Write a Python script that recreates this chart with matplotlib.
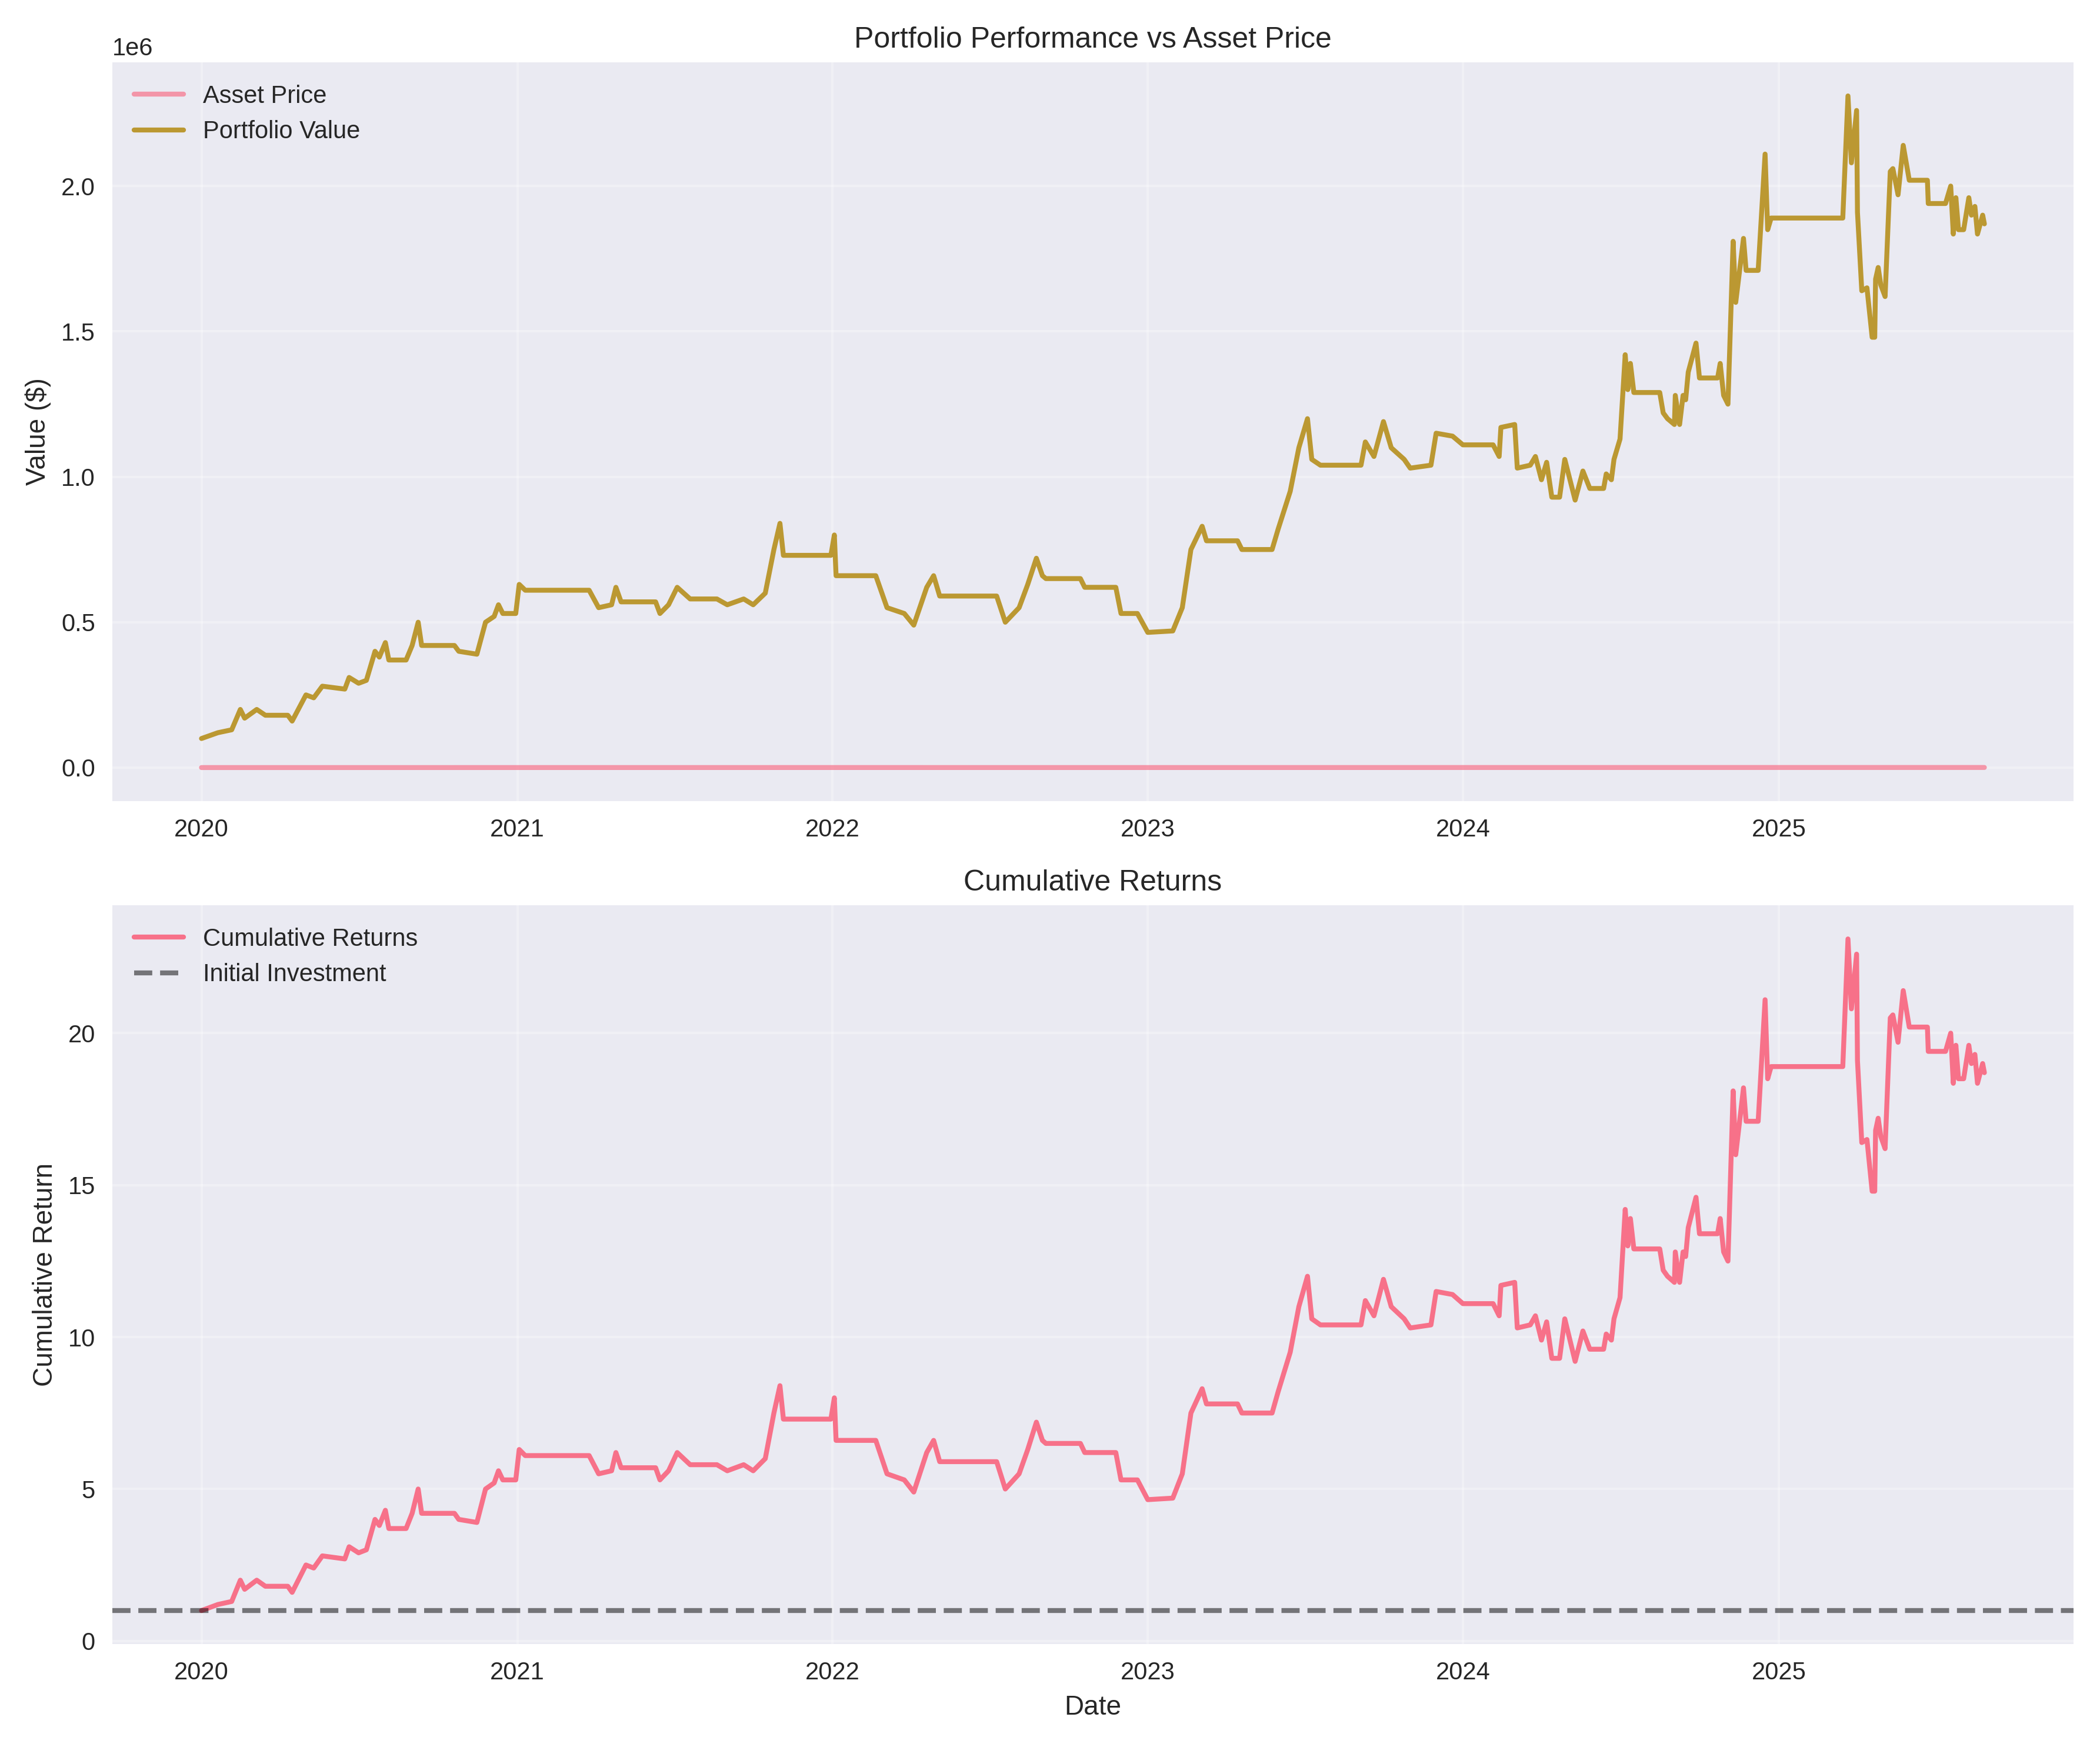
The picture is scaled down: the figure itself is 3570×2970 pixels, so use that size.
import matplotlib.pyplot as plt
import matplotlib.dates as mdates
import numpy as np
import pandas as pd
import seaborn as sns

# cumulative return breakpoints
dates = ["2020-01-01", "2020-01-20", "2020-02-05", "2020-02-15", "2020-02-20", "2020-03-05", "2020-03-15",
         "2020-04-10", "2020-04-15", "2020-05-01", "2020-05-10", "2020-05-20", "2020-06-15", "2020-06-20",
         "2020-07-01", "2020-07-10", "2020-07-20", "2020-07-25", "2020-08-01", "2020-08-05", "2020-08-25",
         "2020-09-01", "2020-09-08", "2020-09-12", "2020-10-20", "2020-10-25", "2020-11-15", "2020-11-25",
         "2020-12-05", "2020-12-10", "2020-12-15", "2020-12-30", "2021-01-03", "2021-01-10", "2021-03-25",
         "2021-04-05", "2021-04-20", "2021-04-25", "2021-05-01", "2021-06-10", "2021-06-15", "2021-06-25",
         "2021-07-05", "2021-07-20", "2021-08-20", "2021-09-01", "2021-09-20", "2021-10-01", "2021-10-15",
         "2021-10-25", "2021-11-01", "2021-11-05", "2021-12-30", "2022-01-03", "2022-01-05", "2022-02-20",
         "2022-03-05", "2022-03-25", "2022-04-05", "2022-04-20", "2022-04-28", "2022-05-05", "2022-07-10",
         "2022-07-20", "2022-08-05", "2022-08-15", "2022-08-25", "2022-09-01", "2022-09-05", "2022-10-15",
         "2022-10-20", "2022-11-25", "2022-12-01", "2022-12-20", "2023-01-01", "2023-01-30", "2023-02-10",
         "2023-02-20", "2023-03-05", "2023-03-10", "2023-04-15", "2023-04-20", "2023-05-25", "2023-06-01",
         "2023-06-15", "2023-06-25", "2023-07-05", "2023-07-10", "2023-07-20", "2023-09-05", "2023-09-10",
         "2023-09-20", "2023-10-01", "2023-10-10", "2023-10-25", "2023-11-01", "2023-11-25", "2023-12-01",
         "2023-12-20", "2024-01-01", "2024-02-05", "2024-02-12", "2024-02-14", "2024-03-01", "2024-03-04",
         "2024-03-19", "2024-03-25", "2024-04-01", "2024-04-07", "2024-04-13", "2024-04-22", "2024-04-28",
         "2024-05-10", "2024-05-19", "2024-05-27", "2024-06-12", "2024-06-15", "2024-06-21", "2024-06-24",
         "2024-07-01", "2024-07-07", "2024-07-10", "2024-07-13", "2024-07-17", "2024-08-16", "2024-08-20",
         "2024-08-25", "2024-09-02", "2024-09-03", "2024-09-08", "2024-09-12", "2024-09-15", "2024-09-18",
         "2024-09-27", "2024-10-01", "2024-10-22", "2024-10-25", "2024-10-29", "2024-11-03", "2024-11-09",
         "2024-11-12", "2024-11-21", "2024-11-24", "2024-12-08", "2024-12-16", "2024-12-19", "2024-12-23",
         "2025-03-16", "2025-03-22", "2025-03-26", "2025-04-01", "2025-04-02", "2025-04-07", "2025-04-13",
         "2025-04-19", "2025-04-22", "2025-04-23", "2025-04-26", "2025-04-29", "2025-05-04", "2025-05-10",
         "2025-05-13", "2025-05-19", "2025-05-25", "2025-06-01", "2025-06-22", "2025-06-23", "2025-07-13",
         "2025-07-19", "2025-07-22", "2025-07-25", "2025-07-28", "2025-08-03", "2025-08-09", "2025-08-12",
         "2025-08-16", "2025-08-19", "2025-08-25", "2025-08-27"]
cum_returns = [1.0, 1.2, 1.3, 2.0, 1.7, 2.0, 1.8, 1.8, 1.6, 2.5, 2.4, 2.8, 2.7, 3.1, 2.9, 3.0, 4.0, 3.8, 4.3, 3.7,
               3.7, 4.2, 5.0, 4.2, 4.2, 4.0, 3.9, 5.0, 5.2, 5.6, 5.3, 5.3, 6.3, 6.1, 6.1, 5.5, 5.6, 6.2, 5.7, 5.7,
               5.3, 5.6, 6.2, 5.8, 5.8, 5.6, 5.8, 5.6, 6.0, 7.5, 8.4, 7.3, 7.3, 8.0, 6.6, 6.6, 5.5, 5.3, 4.9, 6.2,
               6.6, 5.9, 5.9, 5.0, 5.5, 6.3, 7.2, 6.6, 6.5, 6.5, 6.2, 6.2, 5.3, 5.3, 4.65, 4.7, 5.5, 7.5, 8.3, 7.8,
               7.8, 7.5, 7.5, 8.2, 9.5, 11.0, 12.0, 10.6, 10.4, 10.4, 11.2, 10.7, 11.9, 11.0, 10.6, 10.3, 10.4,
               11.5, 11.4, 11.1, 11.1, 10.7, 11.7, 11.8, 10.3, 10.4, 10.7, 9.9, 10.5, 9.3, 9.3, 10.6, 9.2, 10.2,
               9.6, 9.6, 10.1, 9.9, 10.6, 11.3, 14.2, 13.0, 13.9, 12.9, 12.9, 12.2, 12.0, 11.8, 12.8, 11.8, 12.8,
               12.65, 13.6, 14.6, 13.4, 13.4, 13.9, 12.8, 12.5, 18.1, 16.0, 18.2, 17.1, 17.1, 21.1, 18.5, 18.9,
               18.9, 23.1, 20.8, 22.6, 19.1, 16.4, 16.5, 14.8, 14.8, 16.8, 17.2, 16.6, 16.2, 20.5, 20.6, 19.7,
               21.4, 20.2, 20.2, 19.4, 19.4, 20.0, 18.35, 19.6, 18.5, 18.5, 19.6, 19.0, 19.3, 18.35, 19.0, 18.7]
initial_capital = 100000

asset_dates = ["2020-01-01", "2021-01-01", "2022-01-01", "2023-01-01", "2024-01-01", "2025-01-01", "2025-08-27"]
asset_price = [100, 180, 260, 200, 310, 420, 450]

dates = pd.to_datetime(dates)
cum_returns = np.array(cum_returns)
portfolio = cum_returns * initial_capital

plt.style.use('seaborn-v0_8')
sns.set_palette('husl')
pal = sns.color_palette('husl')

fig, axs = plt.subplots(2, 1, figsize=(11.9, 9.9))

ax = axs[0]
ax.plot(pd.to_datetime(asset_dates), asset_price, label='Asset Price', color=pal[0], alpha=0.7, linewidth=2)
ax.plot(dates, portfolio, label='Portfolio Value', color=pal[1], linewidth=2)
ax.set_title('Portfolio Performance vs Asset Price')
ax.set_ylabel('Value ($)')
ax.legend(loc='upper left')
ax.grid(True, alpha=0.3)

ax = axs[1]
ax.plot(dates, cum_returns, label='Cumulative Returns', color=pal[0], linewidth=2)
ax.axhline(1, color='black', linestyle='--', alpha=0.5, linewidth=2, label='Initial Investment')
ax.set_title('Cumulative Returns')
ax.set_xlabel('Date')
ax.set_ylabel('Cumulative Return')
ax.legend(loc='upper left')
ax.grid(True, alpha=0.3)

for a in axs:
    a.xaxis.set_major_locator(mdates.YearLocator())
    a.xaxis.set_major_formatter(mdates.DateFormatter('%Y'))

plt.tight_layout()
plt.savefig('out.png', dpi=300)
